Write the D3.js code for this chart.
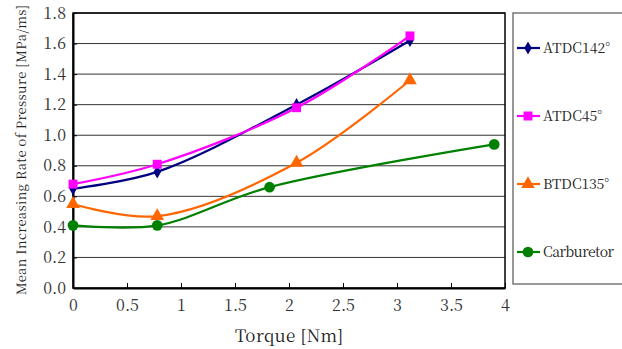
<!DOCTYPE html>
<html>
<head>
<meta charset="utf-8">
<script src="https://cdn.jsdelivr.net/npm/d3@7"></script>
<style>
  body { margin: 0; background: #fff; }
</style>
</head>
<body>
<div id="chart"></div>
<script>
// Data
var seriesNames = ["ATDC142\u00b0", "ATDC45\u00b0", "BTDC135\u00b0", "Carburetor"];
var atdc142X = [0, 0.78, 2.07, 3.12];
var atdc142Y = [0.65, 0.76, 1.20, 1.62];
var atdc45X = [0, 0.78, 2.07, 3.12];
var atdc45Y = [0.68, 0.81, 1.18, 1.65];
var btdc135X = [0, 0.78, 2.07, 3.12];
var btdc135Y = [0.55, 0.47, 0.82, 1.36];
var carbX = [0, 0.78, 1.82, 3.9];
var carbY = [0.41, 0.41, 0.66, 0.94];
var xTicks = [0, 0.5, 1, 1.5, 2, 2.5, 3, 3.5, 4];
var yTicks = [0, 0.2, 0.4, 0.6, 0.8, 1.0, 1.2, 1.4, 1.6, 1.8];

var serif = "'Noto Serif CJK JP'";
var colors = ["#000080", "#ff00ff", "#ff6600", "#008000"];
var symbols = [d3.symbolDiamond, d3.symbolSquare, d3.symbolTriangle, d3.symbolCircle];
var symSizes = [50, 80, 80, 90];

var series = [
  {xs: atdc142X, ys: atdc142Y},
  {xs: atdc45X, ys: atdc45Y},
  {xs: btdc135X, ys: btdc135Y},
  {xs: carbX, ys: carbY}
];

var svgWidth = 622, svgHeight = 349;
var margin = {top: 13, left: 73};
var width = 505 - margin.left;
var height = 288 - margin.top;

var svg = d3.select("#chart").append("svg")
  .attr("width", svgWidth)
  .attr("height", svgHeight);

var g = svg.append("g")
  .attr("transform", `translate(${margin.left}, ${margin.top})`);

var x = d3.scaleLinear().domain([0, 4]).range([0, width]);
var y = d3.scaleLinear().domain([0, 1.8]).range([height, 0]);

// gridlines
g.selectAll(".grid")
  .data(yTicks.slice(1))
  .enter().append("line")
  .attr("x1", 0).attr("x2", width)
  .attr("y1", d => y(d)).attr("y2", d => y(d))
  .attr("stroke", "#333").attr("stroke-width", 1);

// frame
g.append("rect")
  .attr("width", width).attr("height", height)
  .attr("fill", "none").attr("stroke", "#000").attr("stroke-width", 1.5);

// axes
var xAxis = g.append("g")
  .attr("transform", `translate(0, ${height})`)
  .call(d3.axisBottom(x).tickValues(xTicks).tickSizeInner(-5).tickSizeOuter(0).tickPadding(12).tickFormat(d3.format("")));
xAxis.select(".domain").attr("stroke", "#000").attr("stroke-width", 2);
xAxis.selectAll(".tick line").attr("stroke", "#000");
xAxis.selectAll("text").style("font-size", "16px").style("font-family", serif).attr("fill", "#333");

var yAxis = g.append("g")
  .call(d3.axisLeft(y).tickValues(yTicks).tickSizeInner(-4).tickSizeOuter(0).tickPadding(7).tickFormat(d3.format(".1f")));
yAxis.select(".domain").attr("stroke", "#000").attr("stroke-width", 2);
yAxis.selectAll(".tick line").attr("stroke", "#000");
yAxis.selectAll("text").style("font-size", "16px").style("font-family", serif).attr("fill", "#333");

// lines
var line = d3.line()
  .x(d => x(d[0]))
  .y(d => y(d[1]))
  .curve(d3.curveCatmullRom.alpha(0.5));

series.forEach(function(s, i) {
  var pts = s.xs.map((v, j) => [v, s.ys[j]]);
  g.append("path")
    .datum(pts)
    .attr("d", line)
    .attr("fill", "none")
    .attr("stroke", colors[i])
    .attr("stroke-width", 2.2);
  g.selectAll(".m" + i)
    .data(pts)
    .enter().append("path")
    .attr("d", d3.symbol().type(symbols[i]).size(symSizes[i]))
    .attr("transform", d => `translate(${x(d[0])}, ${y(d[1])})`)
    .attr("fill", colors[i]);
});

// axis titles
svg.append("text")
  .attr("x", 235).attr("y", 342)
  .attr("textLength", 108).attr("lengthAdjust", "spacing")
  .style("font-size", "17px").style("font-family", serif).attr("fill", "#222")
  .text("Torque [Nm]");

svg.append("text")
  .attr("transform", "translate(26, 150) rotate(-90)")
  .attr("text-anchor", "middle")
  .attr("textLength", 290).attr("lengthAdjust", "spacing")
  .style("font-size", "13px").style("font-family", serif).attr("fill", "#222")
  .text("Mean Increasing Rate of Pressure [MPa/ms]");

// legend
var legend = svg.append("g");
legend.append("rect")
  .attr("x", 513).attr("y", 13)
  .attr("width", 130).attr("height", 271)
  .attr("fill", "#fff").attr("stroke", "#777").attr("stroke-width", 1.5);

var legendY = [48, 116, 184, 252];
var legendLen = [67, 59, 66, 71];
seriesNames.forEach(function(name, i) {
  var row = legend.append("g").attr("transform", `translate(0, ${legendY[i]})`);
  row.append("line")
    .attr("x1", 517).attr("x2", 540)
    .attr("stroke", colors[i]).attr("stroke-width", 2.2);
  row.append("path")
    .attr("d", d3.symbol().type(symbols[i]).size(symSizes[i]))
    .attr("transform", "translate(528, 0)")
    .attr("fill", colors[i]);
  row.append("text")
    .attr("x", 543).attr("y", 5)
    .attr("textLength", legendLen[i]).attr("lengthAdjust", "spacing")
    .style("font-size", "14px").style("font-family", serif).attr("fill", "#222")
    .text(name);
});
</script>
</body>
</html>
